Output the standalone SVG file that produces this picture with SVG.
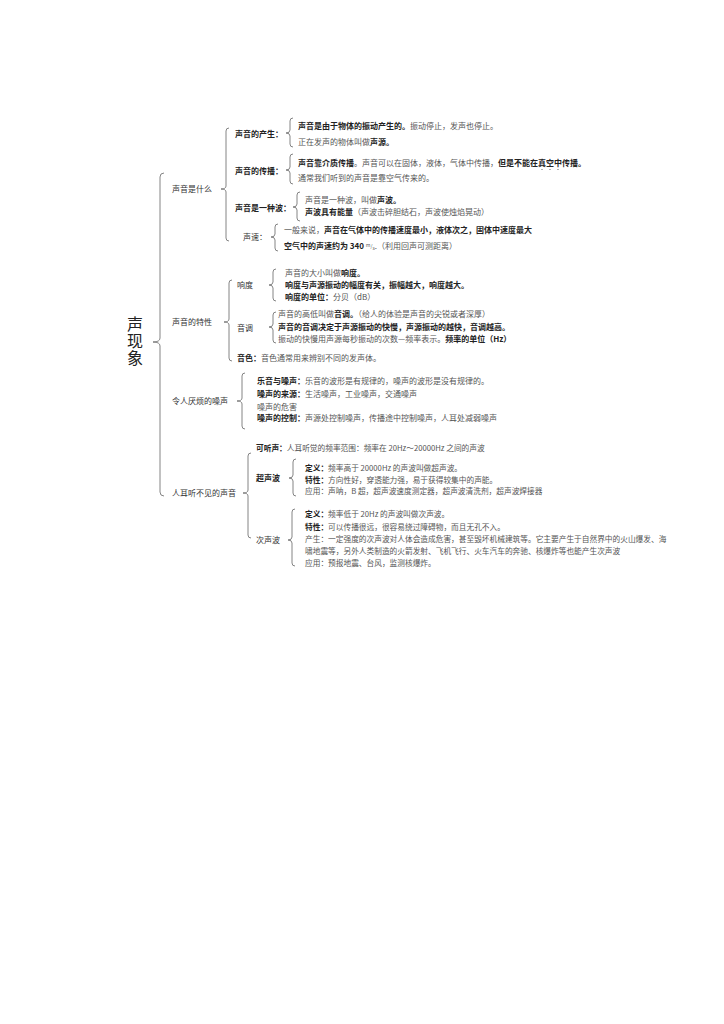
<svg xmlns="http://www.w3.org/2000/svg" width="724" height="1024" viewBox="0 0 724 1024">
<style>
text{font-family:"Noto Sans CJK SC","Liberation Sans",sans-serif;font-size:8px;fill:#555;}
.b{font-weight:bold;fill:#222;}
.l1{fill:#333;}
.s{font-size:7.7px;}
.title{font-size:16px;fill:#222;writing-mode:vertical-rl;letter-spacing:1px;}
.br{fill:none;stroke:#666;stroke-width:0.8;}
</style>
<rect width="724" height="1024" fill="#fff"/>
<g id="connectors">
<path class="br" d="M164,173 Q160,173 160,177 L160,338 Q160,342 153,342 Q160,342 160,346 L160,492 Q160,496 164,496"/>
<path class="br" d="M229,128 Q226,128 226,131 L226,186 Q226,189 221,189 Q226,189 226,192 L226,238 Q226,241 229,241"/>
<path class="br" d="M293,118 Q290,118 290,121 L290,130 Q290,133 286,133 Q290,133 290,136 L290,144 Q290,147 293,147"/>
<path class="br" d="M293,154 Q290,154 290,157 L290,167 Q290,170 286,170 Q290,170 290,173 L290,181 Q290,184 293,184"/>
<path class="br" d="M300,192 Q297,192 297,195 L297,204 Q297,207 293,207 Q297,207 297,210 L297,218 Q297,221 300,221"/>
<path class="br" d="M278,224 Q275,224 275,227 L275,234 Q275,237 271,237 Q275,237 275,240 L275,248 Q275,251 278,251"/>
<path class="br" d="M232,280 Q229,280 229,283 L229,319 Q229,322 224,322 Q229,322 229,325 L229,358 Q229,361 232,361"/>
<path class="br" d="M276,269 Q273,269 273,272 L273,282 Q273,285 269,285 Q273,285 273,288 L273,298 Q273,301 276,301"/>
<path class="br" d="M276,312 Q273,312 273,315 L273,324 Q273,327 269,327 Q273,327 273,330 L273,340 Q273,343 276,343"/>
<path class="br" d="M245,373 Q242,373 242,376 L242,398 Q242,401 237,401 Q242,401 242,404 L242,426 Q242,429 245,429"/>
<path class="br" d="M251,453 Q248,453 248,456 L248,490 Q248,493 243,493 Q248,493 248,496 L248,535 Q248,538 251,538"/>
<path class="br" d="M296,459 Q293,459 293,462 L293,475 Q293,478 289,478 Q293,478 293,481 L293,493 Q293,496 296,496"/>
<path class="br" d="M295,509 Q292,509 292,512 L292,537 Q292,540 288,540 Q292,540 292,543 L292,563 Q292,566 295,566"/>
</g>
<g id="root">
<text class="title" x="135" y="316">声现象</text>
</g>
<g id="what">
<text class="l1" x="172" y="192">声音是什么</text>
</g>
<g id="produce">
<text class="b" x="235" y="137">声音的产生：</text>
<text x="298" y="129"><tspan class="b">声音是由于物体的振动产生的。</tspan>振动停止，发声也停止。</text>
<text x="298" y="145">正在发声的物体叫做<tspan class="b">声源。</tspan></text>
</g>
<g id="spread">
<text class="b" x="235" y="174">声音的传播：</text>
<text x="298" y="166"><tspan class="b">声音靠介质传播</tspan>。声音可以在固体，液体，气体中传播，<tspan class="b">但是不能在真空中传播。</tspan></text>
<circle cx="542" cy="169.5" r="0.6" fill="#555"/>
<circle cx="550" cy="169.5" r="0.6" fill="#555"/>
<circle cx="558" cy="169.5" r="0.6" fill="#555"/>
<text x="298" y="181">通常我们听到的声音是靠空气传来的。</text>
</g>
<g id="wave">
<text class="b" x="235" y="211">声音是一种波：</text>
<text x="305" y="203">声音是一种波，叫做<tspan class="b">声波。</tspan></text>
<text x="305" y="215"><tspan class="b">声波具有能量</tspan>（声波击碎胆结石，声波使烛焰晃动）</text>
</g>
<g id="speed">
<text class="l1" x="243" y="240">声速：</text>
<text x="284" y="233">一般来说，<tspan class="b">声音在气体中的传播速度最小，液体次之，固体中速度最大</tspan></text>
<text x="284" y="249"><tspan class="b">空气中的声速约为 340 </tspan><tspan font-size="5" dy="-2.5">m</tspan><tspan font-size="5" dy="1">/</tspan><tspan font-size="5" dy="2">s</tspan><tspan dy="-0.5">.（利用回声可测距离）</tspan></text>
</g>
<g id="property">
<text class="l1" x="172" y="325">声音的特性</text>
</g>
<g id="loudness">
<text class="l1" x="237" y="288">响度</text>
<text x="285" y="276">声音的大小叫做<tspan class="b">响度。</tspan></text>
<text class="b" x="285" y="288">响度与声源振动的幅度有关，振幅越大，响度越大。</text>
<text x="285" y="300"><tspan class="b">响度的单位：</tspan>分贝（dB）</text>
</g>
<g id="pitch">
<text class="l1" x="237" y="331">音调</text>
<text x="278" y="317">声音的高低叫做<tspan class="b">音调。</tspan>（给人的体验是声音的尖锐或者深厚）</text>
<text class="b" x="278" y="330">声音的音调决定于声源振动的快慢，声源振动的越快，音调越高。</text>
<text x="278" y="342">振动的快慢用声源每秒振动的次数—频率表示。<tspan class="b">频率的单位（Hz）</tspan></text>
</g>
<g id="timbre">
<text x="237" y="361"><tspan class="b">音色：</tspan>音色通常用来辨别不同的发声体。</text>
</g>
<g id="noise">
<text class="l1" x="172" y="404">令人厌烦的噪声</text>
<text x="257" y="384"><tspan class="b">乐音与噪声：</tspan>乐音的波形是有规律的，噪声的波形是没有规律的。</text>
<text x="257" y="397"><tspan class="b">噪声的来源：</tspan>生活噪声，工业噪声，交通噪声</text>
<text x="257" y="410">噪声的危害</text>
<text x="257" y="421"><tspan class="b">噪声的控制：</tspan>声源处控制噪声，传播途中控制噪声，人耳处减弱噪声</text>
</g>
<g id="inaudible">
<text class="l1" x="172" y="496">人耳听不见的声音</text>
<text class="s" x="256" y="451"><tspan class="b">可听声：</tspan>人耳听觉的频率范围：频率在 20Hz～20000Hz 之间的声波</text>
</g>
<g id="ultrasound">
<text class="b" x="256" y="481">超声波</text>
<text class="s" x="305" y="471"><tspan class="b">定义：</tspan>频率高于 20000Hz 的声波叫做超声波。</text>
<text class="s" x="305" y="483"><tspan class="b">特性：</tspan>方向性好，穿透能力强，易于获得较集中的声能。</text>
<text class="s" x="305" y="494">应用：声呐，B 超，超声波速度测定器，超声波清洗剂，超声波焊接器</text>
</g>
<g id="infrasound">
<text class="l1" x="256" y="543">次声波</text>
<text class="s" x="305" y="517"><tspan class="b">定义：</tspan>频率低于 20Hz 的声波叫做次声波。</text>
<text class="s" x="305" y="530"><tspan class="b">特性：</tspan>可以传播很远，很容易绕过障碍物，而且无孔不入。</text>
<text class="s" x="305" y="542">产生：一定强度的次声波对人体会造成危害，甚至毁坏机械建筑等。它主要产生于自然界中的火山爆发、海</text>
<text class="s" x="305" y="554">啸地震等，另外人类制造的火箭发射、飞机飞行、火车汽车的奔驰、核爆炸等也能产生次声波</text>
<text class="s" x="305" y="566">应用：预报地震、台风，监测核爆炸。</text>
</g>
</svg>
